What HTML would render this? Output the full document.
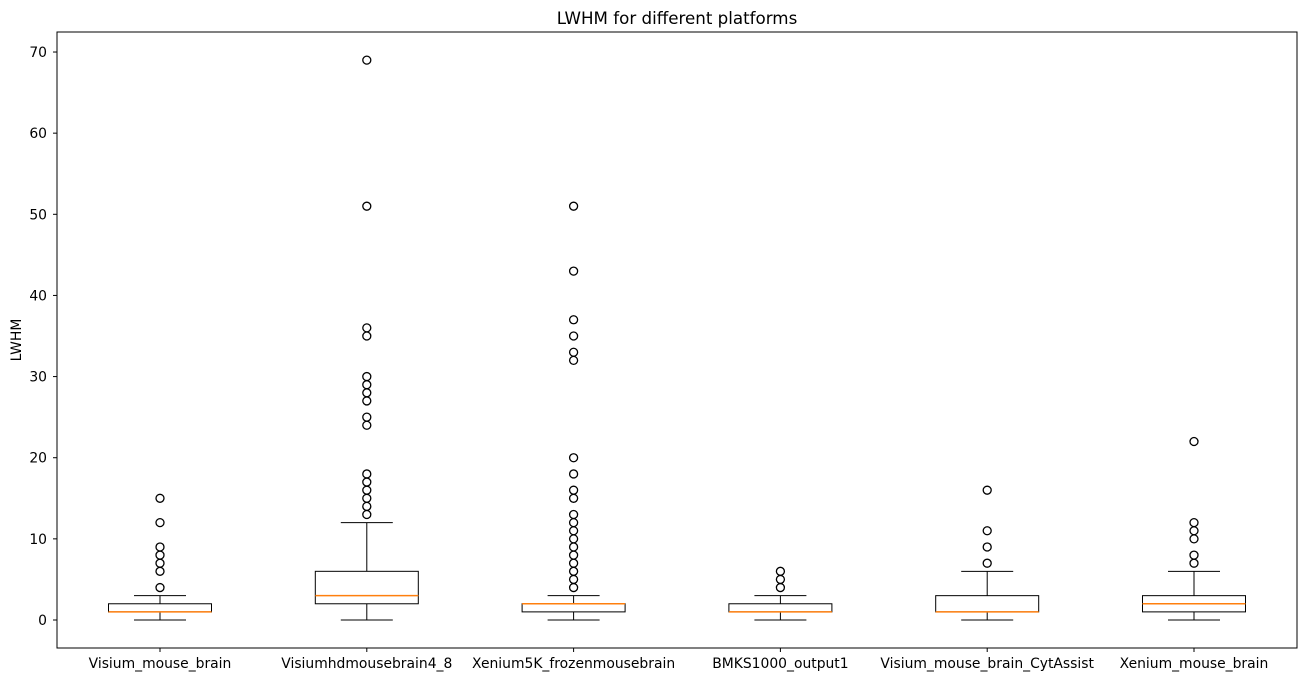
<!DOCTYPE html>
<html><head><meta charset="utf-8"><style>
body{margin:0;background:#fff;}
svg{display:block;font-family:"DejaVu Sans","Liberation Sans",sans-serif;}
</style></head><body>
<svg id="chart" width="1306" height="682">
<text x="677" y="24" text-anchor="middle" font-size="16.7">LWHM for different platforms</text>
<text transform="translate(21,340) rotate(-90)" text-anchor="middle" font-size="13.9">LWHM</text>
<g id="plot"></g>
<rect x="57" y="32" width="1240" height="616" fill="none" stroke="#000" stroke-width="1"/>
</svg>
<script>
const categories=["Visium_mouse_brain","Visiumhdmousebrain4_8","Xenium5K_frozenmousebrain","BMKS1000_output1","Visium_mouse_brain_CytAssist","Xenium_mouse_brain"];
const mins=[0,0,0,0,0,0];
const q1s=[1,2,1,1,1,1];
const medians=[1,3,2,1,1,2];
const q3s=[2,6,2,2,3,3];
const maxs=[3,12,3,3,6,6];
const outliers=[
[4,6,7,8,9,12,15],
[13,14,15,16,17,18,24,25,27,28,29,30,35,36,51,69],
[4,5,6,7,8,9,10,11,12,13,15,16,18,20,32,33,35,37,43,51],
[4,5,6],
[7,9,11,16],
[7,8,10,11,12,22]];
const yTicks=[0,10,20,30,40,50,60,70];
const ns="http://www.w3.org/2000/svg";
const g=document.getElementById('plot');
const y=v=>620-v*8.114;
const x=i=>160+i*206.8;
const bw=103;
function mk(t,a){const e=document.createElementNS(ns,t);for(const k in a)e.setAttribute(k,a[k]);g.appendChild(e);return e;}
yTicks.forEach(t=>{
 const l=mk('line',{x1:53,x2:57,y1:y(t),y2:y(t),stroke:'#000'});
 
 
 const tx=mk('text',{x:47,y:y(t)+5,'text-anchor':'end','font-size':'13.9'});
 tx.textContent=t;
 
 
});
categories.forEach((c,i)=>{
 const cx=x(i);
 const tk=mk('line',{x1:cx,x2:cx,y1:648,y2:652,stroke:'#000'});
 
 
 const lb=mk('text',{x:cx,y:668,'text-anchor':'middle','font-size':'13.9'});
 lb.textContent=c;
 
 
 const w1=mk('line',{x1:cx,x2:cx,y1:y(mins[i]),y2:y(q1s[i]),stroke:'#000'});
 
 
 const w2=mk('line',{x1:cx,x2:cx,y1:y(q3s[i]),y2:y(maxs[i]),stroke:'#000'});
 
 
 const c1=mk('line',{x1:cx-26,x2:cx+26,y1:y(mins[i]),y2:y(mins[i]),stroke:'#000'});
 
 
 const c2=mk('line',{x1:cx-26,x2:cx+26,y1:y(maxs[i]),y2:y(maxs[i]),stroke:'#000'});
 
 
 const b=mk('rect',{x:cx-bw/2,y:y(q3s[i]),width:bw,height:y(q1s[i])-y(q3s[i]),fill:'none',stroke:'#000'});
 
 
 const m=mk('line',{x1:cx-bw/2,x2:cx+bw/2,y1:y(medians[i]),y2:y(medians[i]),stroke:'#ff7f0e','stroke-width':1.5});
 
 
 outliers[i].forEach(v=>{
  const o=mk('circle',{cx:cx,cy:y(v),r:4,fill:'none',stroke:'#000','stroke-width':1.3});
  
  
 });
});
</script>
</body></html>
